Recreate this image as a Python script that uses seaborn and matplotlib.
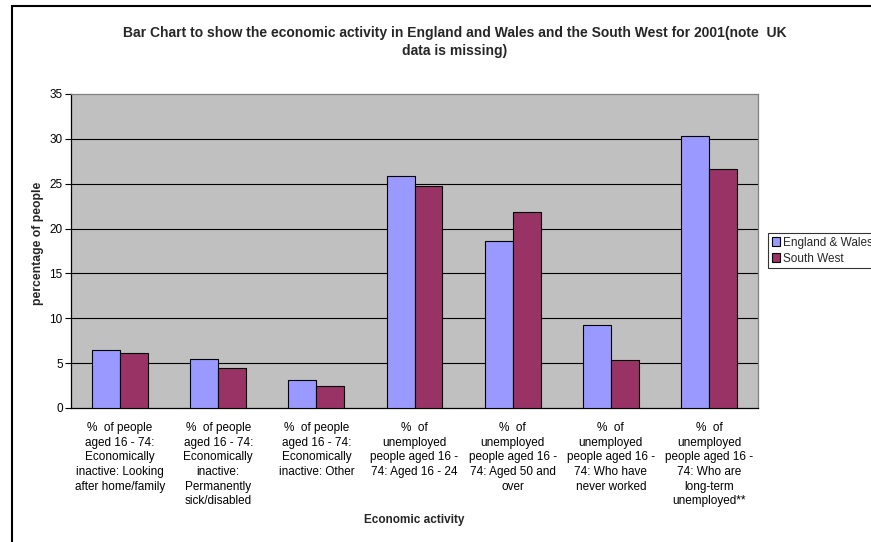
import matplotlib
matplotlib.use("Agg")
import matplotlib.pyplot as plt
import seaborn as sns
import pandas as pd
from matplotlib.patches import Rectangle

categories = [
    "%  of people\naged 16 - 74:\nEconomically\ninactive: Looking\nafter home/family",
    "%  of people\naged 16 - 74:\nEconomically\ninactive:\nPermanently\nsick/disabled",
    "%  of people\naged 16 - 74:\nEconomically\ninactive: Other",
    "%  of\nunemployed\npeople aged 16 -\n74: Aged 16 - 24",
    "%  of\nunemployed\npeople aged 16 -\n74: Aged 50 and\nover",
    "%  of\nunemployed\npeople aged 16 -\n74: Who have\nnever worked",
    "%  of\nunemployed\npeople aged 16 -\n74: Who are\nlong-term\nunemployed**",
]
england_wales = [6.5, 5.5, 3.1, 25.9, 18.6, 9.25, 30.3]
south_west = [6.1, 4.5, 2.5, 24.7, 21.9, 5.4, 26.6]
series_names = ["England & Wales", "South West"]
y_ticks = [0, 5, 10, 15, 20, 25, 30, 35]

df = pd.DataFrame({
    "Economic activity": categories * 2,
    "value": england_wales + south_west,
    "series": [series_names[0]] * len(categories) + [series_names[1]] * len(categories),
})

sns.set_theme(style="white")
plt.rcParams["font.family"] = ["Liberation Sans", "DejaVu Sans"]

fig = plt.figure(figsize=(8.71, 5.42), dpi=100)
fig.patch.set_facecolor("white")
ax = fig.add_axes([71 / 871, 1 - 408 / 542, (758 - 71) / 871, (408 - 94) / 542])
ax.set_facecolor("#C0C0C0")

sns.barplot(data=df, x="Economic activity", y="value", hue="series",
            hue_order=series_names, order=categories,
            palette=["#9999FF", "#993366"], saturation=1, width=0.57,
            edgecolor="black", linewidth=0.8, ax=ax, zorder=3)

ax.set_ylim(0, 35)
ax.set_xlim(-0.5, len(categories) - 0.5)
ax.set_yticks(y_ticks)
ax.set_yticklabels([str(t) for t in y_ticks], fontsize=8.5, color="black")
for t in y_ticks[1:-1]:
    ax.axhline(t, color="black", linewidth=0.8, zorder=1)

ax.set_xticks(range(len(categories)))
ax.set_xticklabels(categories, fontsize=8.5, color="black", linespacing=1.3, va="top")
ax.set_xticks([i - 0.5 for i in range(len(categories) + 1)], minor=True)
ax.tick_params(axis="x", which="major", length=0, pad=10)
ax.tick_params(axis="x", which="minor", length=4, width=0.8, color="black", direction="out")
ax.tick_params(axis="y", which="major", length=4, width=0.8, color="black", direction="out",
               left=True, pad=2)

for side in ["left", "bottom"]:
    ax.spines[side].set_color("black")
    ax.spines[side].set_linewidth(0.9)
for side in ["top", "right"]:
    ax.spines[side].set_color("#808080")
    ax.spines[side].set_linewidth(0.9)

ax.set_xlabel("Economic activity", fontsize=8.5, fontweight="bold")
ax.xaxis.set_label_coords(0.5, (408 - 520) / 314)
ax.xaxis.label.set_va("center")
ax.set_ylabel("percentage of people", fontsize=8.8, fontweight="bold")
ax.yaxis.set_label_coords((38 - 71) / 687, (408 - 243) / 314)
ax.yaxis.label.set_va("center")

handles, labels = ax.get_legend_handles_labels()
ax.get_legend().remove()
leg = fig.legend(handles, labels, loc="upper left",
                 bbox_to_anchor=(768 / 871, 1 - 233 / 542),
                 fontsize=8.5, frameon=True, fancybox=False,
                 edgecolor="black", handlelength=0.7, handleheight=0.7,
                 handletextpad=0.3, borderpad=0.3, labelspacing=0.35,
                 borderaxespad=0)
leg.get_frame().set_linewidth(0.8)

fig.text(455 / 871, 1 - 42 / 542,
         "Bar Chart to show the economic activity in England and Wales and the South West for 2001(note  UK\ndata is missing)",
         ha="center", va="center", fontsize=10, fontweight="bold", linespacing=1.3)

fig.add_artist(Rectangle((12 / 871, -0.1), 1.2, 1 - 6 / 542 + 0.1,
                         transform=fig.transFigure, fill=False,
                         edgecolor="black", linewidth=1.5, clip_on=False))

fig.savefig("out.png", dpi=100)
